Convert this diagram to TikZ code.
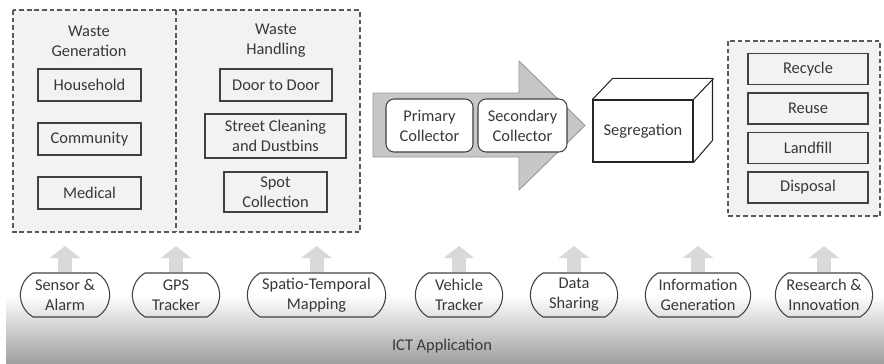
\documentclass[tikz,border=0pt]{standalone}
\usepackage{fontspec}
\setmainfont{Carlito}
\usetikzlibrary{arrows.meta,shapes.misc}

\begin{document}
\begin{tikzpicture}[x=0.03cm, y=-0.03cm, node distance=1.62cm,
  font=\fontsize{14}{17}\selectfont, text=black!78,
  zone/.style={draw=black!65, dash pattern=on 4pt off 2.5pt, line width=0.9pt},
  item/.style={shape=rectangle, draw=black!75, line width=0.9pt, align=center, minimum height=0.96cm},
  collector/.style={shape=rectangle, rounded corners=0.24cm, draw=black!75, fill=white, line width=0.9pt, align=center, minimum height=1.59cm},
  tool/.style={shape=rounded rectangle, rounded rectangle arc length=120, draw=black!75, line width=0.9pt, align=center, minimum height=1.32cm, inner xsep=2pt},
  lift/.style={draw=black!15, line width=0.42cm, -{Triangle[width=0.9cm, length=0.36cm]}}]
\useasboundingbox (0,0) rectangle (884,364);

% ICT band
\shade[top color=white, bottom color=black!38] (6,295) rectangle (884,364);
\node (ICT) at (442,346) {ICT Application};

% waste generation / handling area
\draw[zone, fill=black!5] (13,10) rectangle (360,232);
\draw[zone] (176,10) -- (176,232);

\node [align=center] (WG) at (89,41) {Waste\\Generation};
\node [item, minimum width=3.09cm] (N1) at (89.5,85) {Household};
\node [item, minimum width=3.09cm, below of=N1] (N2) {Community};
\node [item, minimum width=3.09cm, below of=N2] (N3) {Medical};

\node [align=center] (WH) at (276,41) {Waste\\Handling};
\node [item, minimum width=3.36cm] (H1) at (276,85) {Door to Door};
\node [item, minimum width=4.23cm, minimum height=1.32cm] (H2) at (275.5,136) {Street Cleaning\\and Dustbins};
\node [item, minimum width=3.09cm, minimum height=1.2cm] (H3) at (275.5,192) {Spot\\Collection};

% collection flow
\draw[draw=black!40, fill=black!22, line width=0.8pt]
  (373,93) -- (519,93) -- (519,61) -- (585,125.5) -- (519,190) -- (519,157) -- (373,157) -- cycle;
\node [collector, minimum width=2.61cm] (C1) at (429.5,125.5) {Primary\\Collector};
\node [collector, minimum width=2.67cm] (C2) at (522.5,125.5) {Secondary\\Collector};

% segregation cuboid
\node [shape=rectangle, draw=black!85, fill=white, line width=0.9pt, minimum width=3cm, minimum height=1.86cm] (Seg) at (643,131) {Segregation};
\draw[black!85, line width=0.9pt, line join=round] (Seg.north west) -- ++(20,-21) -- ++(100,0) -- ++(0,62) -- (Seg.south east);
\draw[black!85, line width=0.9pt] (Seg.north east) -- ++(20,-21);

% final treatment
\draw[zone, fill=black!5] (728,41) rectangle (880,216);
\node [item, minimum width=3.6cm, minimum height=0.93cm] (R1) at (808,69) {Recycle};
\node [item, minimum width=3.6cm, minimum height=0.93cm, below of=R1, node distance=1.185cm] (R2) {Reuse};
\node [item, minimum width=3.6cm, minimum height=0.93cm, below of=R2, node distance=1.185cm] (R3) {Landfill};
\node [item, minimum width=3.6cm, minimum height=0.93cm, below of=R3, node distance=1.185cm] (R4) {Disposal};

% ICT tools
\node [tool, minimum width=2.82cm] (T1) at (65,295) {Sensor \&\\Alarm};
\node [tool, minimum width=2.76cm] (T2) at (176,295) {GPS\\Tracker};
\node [tool, minimum width=4.29cm] (T3) at (316.5,295) {Spatio-Temporal\\Mapping};
\node [tool, minimum width=2.76cm] (T4) at (459,295) {Vehicle\\Tracker};
\node [tool, minimum width=2.76cm] (T5) at (574,295) {Data\\Sharing};
\node [tool, minimum width=3.3cm] (T6) at (698,295) {Information\\Generation};
\node [tool, minimum width=3.06cm] (T7) at (824,295) {Research \&\\Innovation};

\coordinate (top) at (0,246);
\foreach \t in {T1,T2,T3,T4,T5,T6,T7}
  \draw[lift] (\t.north) -- (\t.north |- top);
\end{tikzpicture}
\end{document}
